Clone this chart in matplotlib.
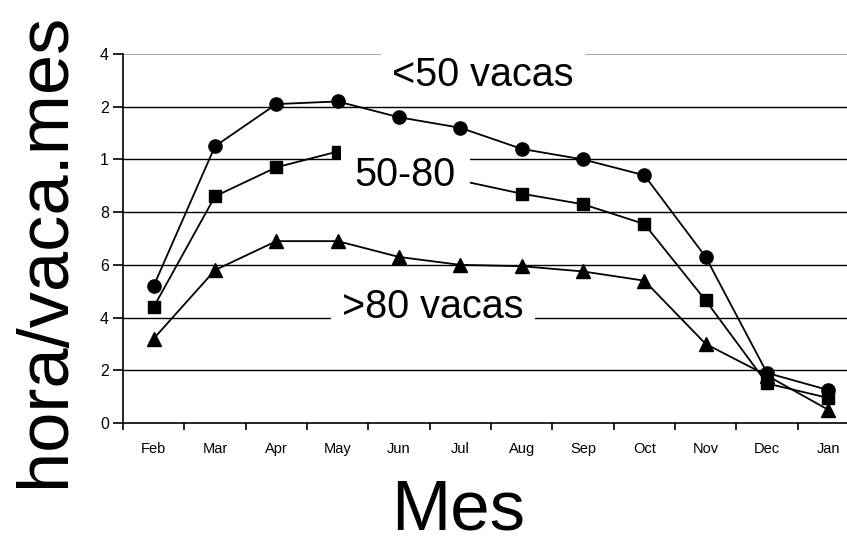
import numpy as np
import matplotlib
matplotlib.use('Agg')
import matplotlib.pyplot as plt

plt.rcParams['font.family'] = ['Liberation Sans', 'DejaVu Sans']

meses = ['Feb', 'Mar', 'Apr', 'May', 'Jun', 'Jul', 'Aug', 'Sep', 'Oct', 'Nov', 'Dec', 'Jan']
menos50 = [0.52, 1.05, 1.21, 1.22, 1.16, 1.12, 1.04, 1.00, 0.94, 0.63, 0.19, 0.125]
de50a80 = [0.44, 0.86, 0.97, 1.03, 0.97, 0.92, 0.87, 0.83, 0.755, 0.465, 0.15, 0.095]
mas80 = [0.32, 0.58, 0.69, 0.69, 0.63, 0.60, 0.595, 0.575, 0.54, 0.30, 0.18, 0.05]
yticks = [0, 0.2, 0.4, 0.6, 0.8, 1.0, 1.2, 1.4]
ytick_labels = ['0', '2', '4', '6', '8', '1', '2', '4']

fig = plt.figure(figsize=(8.47, 5.46), dpi=100)
ax = fig.add_axes([123/847, 1-423/546, 736/847, 369/546])

x = np.arange(len(meses))
ax.plot(x, menos50, 'k-', marker='o', markersize=9.5, lw=1.3, zorder=3)
ax.plot(x, de50a80, 'k-', marker='s', markersize=9, lw=1.3, zorder=3)
ax.plot(x, mas80, 'k-', marker='^', markersize=9.5, lw=1.3, zorder=3)

# lineas horizontales
for yv in yticks[1:-1]:
    ax.axhline(yv, color='k', lw=1.0, zorder=1)
ax.axhline(1.4, color='#999999', lw=1.2, zorder=1)

ax.set_xlim(-0.5, 11.5)
ax.set_ylim(0, 1.4)
ax.set_xticks(x)
ax.set_xticklabels(meses, fontsize=10.5)
ax.set_xticks(np.arange(-0.5, 12, 1), minor=True)
ax.tick_params(axis='x', which='major', length=0, pad=14)
ax.tick_params(axis='x', which='minor', length=5, width=1.2)
ax.set_yticks(yticks)
ax.set_yticklabels(ytick_labels, fontsize=11.5)
ax.tick_params(axis='y', length=7, width=1.2, pad=3)
for s in ['top', 'right']:
    ax.spines[s].set_visible(False)
ax.spines['left'].set_linewidth(1.2)
ax.spines['bottom'].set_linewidth(1.2)

caja = dict(facecolor='white', edgecolor='none', pad=8)
ax.text(5.37, 1.32, '<50 vacas', fontsize=28.5, ha='center', va='center', bbox=caja, zorder=5)
ax.text(4.1, 0.94, '50-80', fontsize=28.5, ha='center', va='center',
        bbox=dict(facecolor='white', edgecolor='none', pad=10), zorder=5)
ax.text(4.55, 0.44, '>80 vacas', fontsize=28.5, ha='center', va='center', bbox=caja, zorder=5)

fig.text(458/847, 1-512/546, 'Mes', fontsize=51, ha='center', va='center')
fig.text(45/847, 1-250/546, 'hora/vaca.mes', fontsize=52, ha='center', va='center', rotation=90)

fig.savefig('out.png', dpi=100)
